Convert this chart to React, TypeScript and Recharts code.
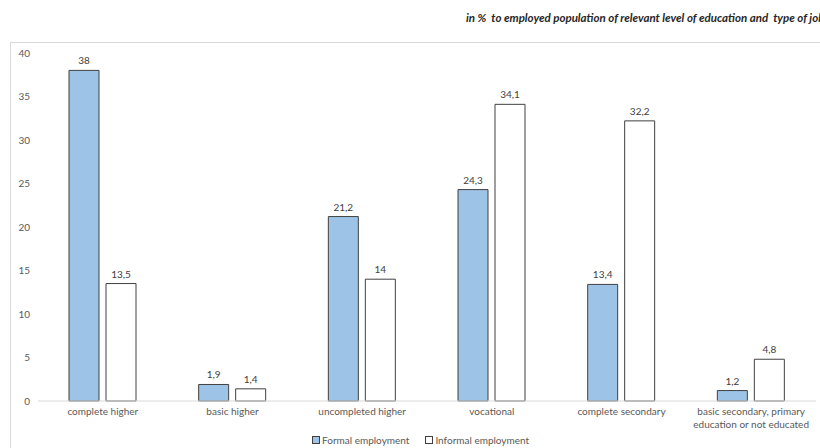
import { BarChart, Bar, XAxis, YAxis, LabelList } from 'recharts'

const categories = [
  'complete higher',
  'basic higher',
  'uncompleted higher',
  'vocational',
  'complete secondary',
  'basic secondary, primary|education or not educated',
]
const formal = [38, 1.9, 21.2, 24.3, 13.4, 1.2]
const informal = [13.5, 1.4, 14, 34.1, 32.2, 4.8]
const yTicks = [0, 5, 10, 15, 20, 25, 30, 35, 40]

const data = categories.map((c, i) => ({ name: c, formal: formal[i], informal: informal[i] }))

const FONT = 'Lato, "Open Sans", sans-serif'
const fmt = (v: any) => String(v).replace('.', ',')

function CatTick({ x, y, payload }: any) {
  const lines = String(payload.value).split('|')
  return (
    <text x={x} y={y} textAnchor="middle" fill="#595959" fontSize={10} fontFamily={FONT}>
      {lines.map((l, i) => (
        <tspan key={i} x={x} dy={i === 0 ? 6 : 13}>
          {l}
        </tspan>
      ))}
    </text>
  )
}

export default function App() {
  return (
    <div style={{ position: 'absolute', left: 0, top: 0, width: 820, height: 448, overflow: 'hidden', background: '#fff', fontFamily: FONT }}>
      <div
        style={{
          position: 'absolute',
          left: 10,
          top: 42,
          width: 830,
          height: 430,
          border: '1px solid #d9d9d9',
        }}
      />
      <div
        style={{
          position: 'absolute',
          left: 466,
          top: 11,
          whiteSpace: 'nowrap',
          fontSize: 11.5,
          fontWeight: 'bold',
          fontStyle: 'italic',
          color: '#262626',
        }}
      >
        in %&nbsp; to employed population of relevant level of education and&nbsp; type of job
      </div>
      <div style={{ position: 'absolute', left: 0, top: 0 }}>
        <BarChart
          width={820}
          height={448}
          data={data}
          margin={{ top: 53, right: 4, bottom: 17, left: 0 }}
          barSize={30}
          barGap={7}
        >
          <XAxis
            dataKey="name"
            tick={<CatTick />}
            tickLine={false}
            axisLine={{ stroke: '#d9d9d9' }}
            interval={0}
          />
          <YAxis
            domain={[0, 40]}
            ticks={yTicks}
            width={38}
            tickSize={0}
            tickMargin={8}
            axisLine={false}
            tickLine={false}
            tick={{ fill: '#595959', fontSize: 10, fontFamily: FONT }}
          />
          <Bar dataKey="formal" fill="#9dc3e6" stroke="#404040" strokeWidth={1} isAnimationActive={false}>
            <LabelList dataKey="formal" position="top" offset={6} formatter={fmt} fill="#404040" fontSize={10} fontFamily={FONT} />
          </Bar>
          <Bar dataKey="informal" fill="#ffffff" stroke="#404040" strokeWidth={1} isAnimationActive={false}>
            <LabelList dataKey="informal" position="top" offset={6} formatter={fmt} fill="#404040" fontSize={10} fontFamily={FONT} />
          </Bar>
        </BarChart>
      </div>
      <div
        style={{
          position: 'absolute',
          top: 434,
          left: 312,
          display: 'flex',
          fontSize: 10,
          color: '#595959',
          whiteSpace: 'nowrap',
          alignItems: 'center',
        }}
      >
        <span style={{ width: 6, height: 6, background: '#9dc3e6', border: '1px solid #404040', marginRight: 2 }} />
        <span style={{ marginRight: 16 }}>Formal employment</span>
        <span style={{ width: 6, height: 6, background: '#fff', border: '1px solid #404040', marginRight: 2 }} />
        <span>Informal employment</span>
      </div>
    </div>
  )
}
